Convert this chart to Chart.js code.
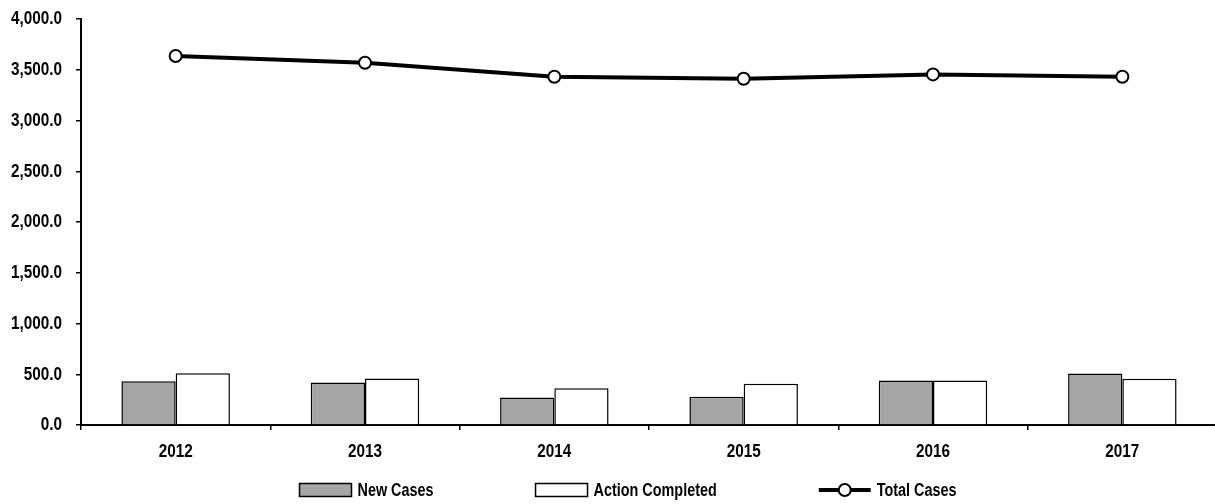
<!DOCTYPE html>
<html>
<head>
<meta charset="utf-8">
<script src="https://cdn.jsdelivr.net/npm/chart.js@4/dist/chart.umd.min.js"></script>
<style>
  html, body { margin: 0; padding: 0; background: #fff; overflow: hidden; }
  #wrap { position: relative; width: 1218px; height: 504px; }
</style>
</head>
<body>
<div id="wrap"><canvas id="chart"></canvas></div>
<script>
// Yearly case counts
const years = ['2012', '2013', '2014', '2015', '2016', '2017'];
const newCases = [432, 419, 271, 278, 439, 508];
const actionCompleted = [511, 459, 363, 406, 439, 456];
const totalCases = [3635, 3569, 3431, 3411, 3454, 3431];

// Narrow bold lettering: a regular sans squeezed horizontally.
const FONT = "bold 18px 'Liberation Sans', Arial, sans-serif";
const NUM_SX = 0.85;   // horizontal squeeze for numbers
const TEXT_SX = 0.80;  // horizontal squeeze for words

const fmt = v => Number(v).toLocaleString('en-US', { minimumFractionDigits: 1, maximumFractionDigits: 1 });

function narrowText(ctx, text, x, y, align, sx) {
  ctx.save();
  ctx.translate(x, y);
  ctx.scale(sx, 1);
  ctx.font = FONT;
  ctx.fillStyle = '#000';
  ctx.textAlign = align;
  ctx.textBaseline = 'middle';
  ctx.fillText(text, 0, 0);
  ctx.restore();
}

function narrowWidth(ctx, text, sx) {
  ctx.save();
  ctx.font = FONT;
  const w = ctx.measureText(text).width * sx;
  ctx.restore();
  return w;
}

// Tick labels for both axes.
const axisLabels = {
  id: 'axisLabels',
  afterDraw(chart) {
    const ctx = chart.ctx;
    const xs = chart.scales.x, ys = chart.scales.y;
    xs.ticks.forEach((t, i) => {
      narrowText(ctx, chart.data.labels[i], xs.getPixelForTick(i), xs.top + 27, 'center', NUM_SX);
    });
    ys.ticks.forEach(t => {
      narrowText(ctx, fmt(t.value), ys.right - 19, ys.getPixelForValue(t.value) + 0.5, 'right', NUM_SX);
    });
  }
};

// Legend drawn beneath the x-axis labels, one row, centred.
const bottomLegend = {
  id: 'bottomLegend',
  afterDraw(chart) {
    const ctx = chart.ctx;
    const boxW = 52, boxH = 13, gap = 6, itemGap = 102;
    const cy = 490;
    const items = chart.data.datasets.map(ds => ({ ds, tw: narrowWidth(ctx, ds.label, TEXT_SX) }));
    const total = items.reduce((s, it) => s + boxW + gap + it.tw, 0) + itemGap * (items.length - 1);
    let x = 628 - total / 2;
    ctx.save();
    items.forEach(({ ds, tw }) => {
      if (ds.type === 'line') {
        ctx.strokeStyle = ds.borderColor;
        ctx.lineWidth = ds.borderWidth;
        ctx.beginPath();
        ctx.moveTo(x, cy);
        ctx.lineTo(x + boxW, cy);
        ctx.stroke();
        ctx.beginPath();
        ctx.arc(x + boxW / 2, cy, ds.pointRadius, 0, Math.PI * 2);
        ctx.fillStyle = ds.pointBackgroundColor;
        ctx.fill();
        ctx.lineWidth = ds.pointBorderWidth;
        ctx.strokeStyle = ds.pointBorderColor;
        ctx.stroke();
      } else {
        ctx.fillStyle = ds.backgroundColor;
        ctx.fillRect(x, cy - boxH / 2, boxW, boxH);
        ctx.lineWidth = 1.5;
        ctx.strokeStyle = ds.borderColor;
        ctx.strokeRect(x, cy - boxH / 2, boxW, boxH);
      }
      narrowText(ctx, ds.label, x + boxW + gap, cy + 1, 'left', TEXT_SX);
      x += boxW + gap + tw + itemGap;
    });
    ctx.restore();
  }
};

new Chart(document.getElementById('chart'), {
  type: 'bar',
  data: {
    labels: years,
    datasets: [
      {
        label: 'New Cases',
        data: newCases,
        backgroundColor: '#a6a6a6',
        borderColor: '#000',
        borderWidth: 1.5,
        categoryPercentage: 0.573,
        barPercentage: 1.0,
        order: 2
      },
      {
        label: 'Action Completed',
        data: actionCompleted,
        backgroundColor: '#ffffff',
        borderColor: '#000',
        borderWidth: 1.5,
        categoryPercentage: 0.573,
        barPercentage: 1.0,
        order: 2
      },
      {
        type: 'line',
        label: 'Total Cases',
        data: totalCases,
        borderColor: '#000',
        borderWidth: 4,
        tension: 0,
        pointRadius: 6,
        pointBackgroundColor: '#fff',
        pointBorderColor: '#000',
        pointBorderWidth: 2,
        order: 1
      }
    ]
  },
  options: {
    responsive: true,
    maintainAspectRatio: false,
    animation: false,
    devicePixelRatio: 1,
    layout: { autoPadding: false, padding: { top: 19, left: 0, right: 1, bottom: 41 } },
    plugins: {
      legend: { display: false },
      tooltip: { enabled: false }
    },
    scales: {
      x: {
        afterFit(scale) { scale.height = 38; },
        grid: { drawOnChartArea: false, drawTicks: true, tickLength: 5, color: '#000', lineWidth: 1.5, offset: true },
        border: { display: true, color: '#000', width: 2 },
        ticks: { display: false }
      },
      y: {
        min: 0,
        max: 4000,
        afterFit(scale) { scale.width = 81; },
        grid: { drawOnChartArea: false, drawTicks: true, tickLength: 5, color: '#000', lineWidth: 1.5 },
        border: { display: true, color: '#000', width: 2 },
        ticks: { display: false, stepSize: 500 }
      }
    }
  },
  plugins: [axisLabels, bottomLegend]
});
</script>
</body>
</html>
